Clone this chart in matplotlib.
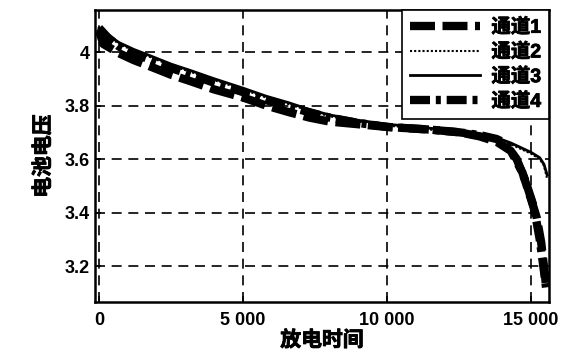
import matplotlib.pyplot as plt
import matplotlib.patheffects as pe

plt.rcParams['font.family'] = ['Liberation Sans', 'Noto Sans CJK SC']
plt.rcParams['font.weight'] = 'bold'

# discharge time and voltage per channel
t1 = [0, 150, 700, 1200, 1800, 2500, 3200, 4000, 5000, 5800, 6600, 7300, 8000, 9000, 10000,
      11500, 12500, 13200, 13800, 14300, 14700, 15000, 15200, 15350, 15490, 15520]
v1 = [4.08, 4.03, 3.995, 3.97, 3.945, 3.915, 3.89, 3.86, 3.83, 3.80, 3.775, 3.755, 3.74, 3.73, 3.72,
      3.71, 3.70, 3.685, 3.665, 3.63, 3.55, 3.45, 3.38, 3.29, 3.16, 3.12]

t2 = [0, 300, 700, 1200, 1800, 2500, 3200, 4000, 5000, 5800, 6600, 7300, 8000, 9000, 10000,
      11500, 12500, 13200, 13800, 14300, 14700, 15000, 15300, 15450, 15550]
v2 = [4.09, 4.06, 4.03, 4.005, 3.98, 3.95, 3.925, 3.895, 3.86, 3.83, 3.805, 3.78, 3.76, 3.74, 3.725,
      3.71, 3.70, 3.69, 3.675, 3.655, 3.635, 3.62, 3.60, 3.575, 3.53]

t3 = [0, 300, 700, 1200, 1800, 2500, 3200, 4000, 5000, 5800, 6600, 7300, 8000, 9000, 10000,
      11500, 12500, 13200, 13800, 14300, 14700, 15000, 15300, 15450, 15560]
v3 = [4.09, 4.065, 4.035, 4.01, 3.985, 3.955, 3.93, 3.90, 3.865, 3.835, 3.81, 3.785, 3.765, 3.745, 3.73,
      3.715, 3.705, 3.695, 3.68, 3.66, 3.64, 3.625, 3.605, 3.58, 3.54]

t4 = [0, 300, 700, 1200, 1800, 2500, 3200, 4000, 5000, 5800, 6600, 7300, 8000, 9000, 10000,
      11500, 12500, 13200, 13800, 14100, 14500, 14800, 15100, 15300, 15450, 15520]
v4 = [4.09, 4.055, 4.02, 3.995, 3.97, 3.94, 3.915, 3.885, 3.85, 3.82, 3.795, 3.775, 3.755, 3.735, 3.72,
      3.71, 3.70, 3.69, 3.675, 3.66, 3.60, 3.52, 3.42, 3.30, 3.18, 3.12]

labels = ['通道1', '通道2', '通道3', '通道4']
xticks = [0, 5000, 10000, 15000]
xticklabels = ['0', '5 000', '10 000', '15 000']
yticks = [3.2, 3.4, 3.6, 3.8, 4.0]
yticklabels = ['3.2', '3.4', '3.6', '3.8', '4']

bold_fx = [pe.withStroke(linewidth=0.6, foreground='black')]

fig = plt.figure(figsize=(5.81, 3.58), dpi=100)
ax = fig.add_axes([0.1635, 0.156, 0.7815, 0.816])

ax.plot(t1, v1, color='black', lw=6, linestyle=(0, (3.0, 0.9)), label=labels[0])
ax.plot(t2, v2, color='black', lw=1.5, linestyle=(0, (1, 1)), label=labels[1])
ax.plot(t3, v3, color='black', lw=2, linestyle='-', label=labels[2])
ax.plot(t4, v4, color='black', lw=6, linestyle=(0, (2.4, 0.7, 0.6, 0.7)), label=labels[3])

ax.set_xlim(-140, 15625)
ax.set_ylim(3.065, 4.157)
ax.set_xticks(xticks)
ax.set_xticklabels(xticklabels)
ax.set_yticks(yticks)
ax.set_yticklabels(yticklabels)
ax.tick_params(direction='in', length=4, width=1.2, labelsize=13, pad=4)
ax.tick_params(axis='x', pad=7)
for lab in ax.get_xticklabels() + ax.get_yticklabels():
    lab.set_fontweight('bold')

ax.grid(True, color='black', linestyle=(0, (6, 4)), lw=1.2)
for s in ax.spines.values():
    s.set_linewidth(1.8)

ax.set_xlabel('放电时间', fontsize=15, fontweight='bold', labelpad=1, path_effects=bold_fx)
ax.set_ylabel('电池电压', fontsize=15, fontweight='bold', labelpad=8, path_effects=bold_fx)

leg = ax.legend(loc='upper right', borderaxespad=0, fancybox=False, framealpha=1,
                edgecolor='black', handlelength=3.6, labelspacing=0.3, handletextpad=0.6,
                prop={'size': 14, 'weight': 'bold'})
leg.get_frame().set_linewidth(1.2)
for txt in leg.get_texts():
    txt.set_path_effects(bold_fx)

fig.savefig('out.png', dpi=100)
